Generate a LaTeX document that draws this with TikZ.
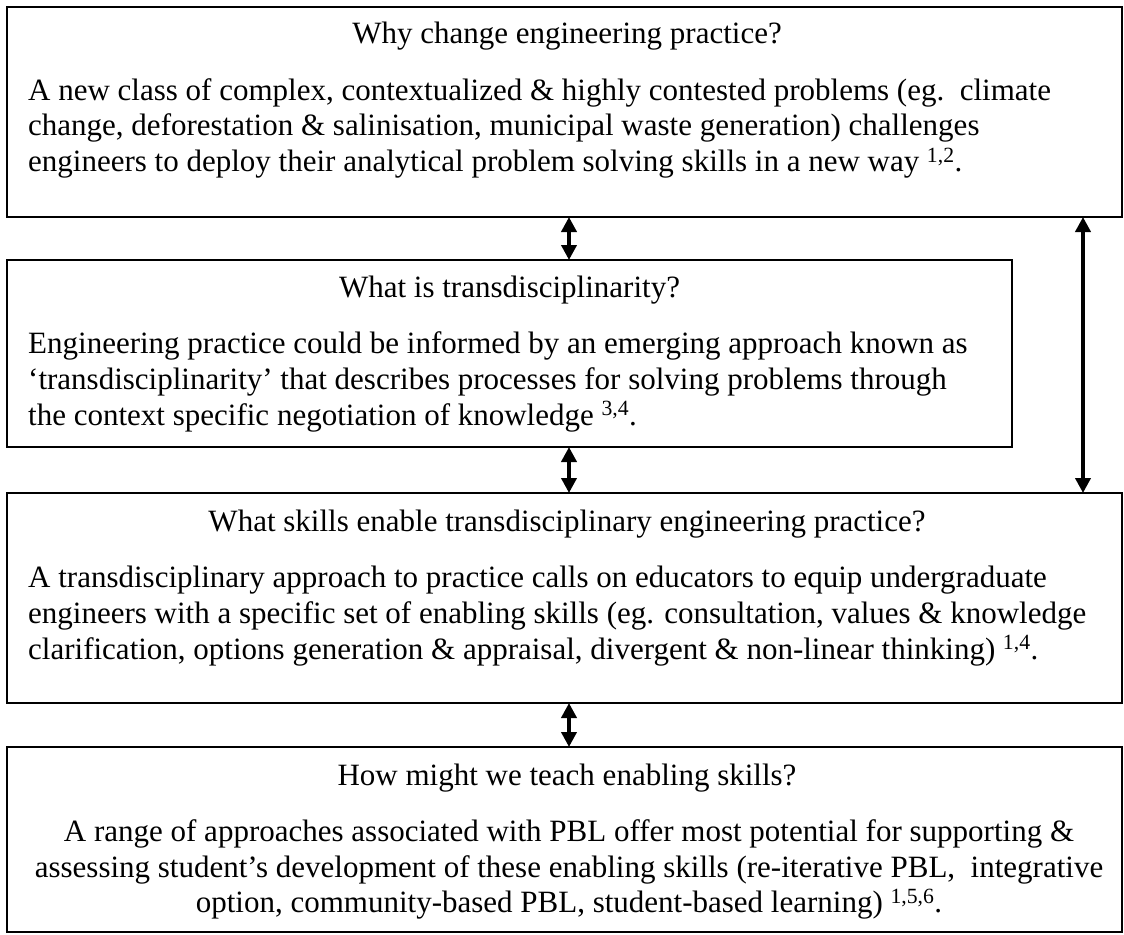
\documentclass[tikz,border=0pt]{standalone}
\usepackage{fontspec}
\setmainfont{Liberation Serif}
\usetikzlibrary{arrows.meta}
\begin{document}
\begin{tikzpicture}[x=1pt,y=-1pt,
  box/.style={draw=black,line width=2pt,anchor=north west,inner sep=0pt,outer sep=0pt},
  ttl/.style={anchor=base,inner sep=0pt,font=\fontsize{31}{35.7}\selectfont},
  lft/.style={anchor=base west,inner sep=0pt,font=\fontsize{31}{35.7}\selectfont},
  ctr/.style={anchor=base,inner sep=0pt,font=\fontsize{31}{35.7}\selectfont},
  dbl/.style={line width=4pt,{Triangle[width=15pt,length=15pt]}-{Triangle[width=15pt,length=15pt]}}]
\useasboundingbox (0,0) rectangle (1124,934);
% boxes
\node[box,minimum width=1115pt,minimum height=210pt] (b1) at (7,7) {};
\node[box,minimum width=1005pt,minimum height=187pt] (b2) at (7,260) {};
\node[box,minimum width=1115pt,minimum height=210pt] (b3) at (7,493) {};
\node[box,minimum width=1115pt,minimum height=185pt] (b4) at (7,747) {};
% box 1
\node[ttl] (t1) at (567,44) {Why change engineering practice?};
\node[lft] (l11) at (28,100) {A new class of complex, contextualized \& highly contested problems (eg.\ \ climate};
\node[lft] (l12) at (28,135.7) {change, deforestation \& salinisation, municipal waste generation) challenges};
\node[lft] (l13) at (28,171.4) {engineers to deploy their analytical problem solving skills in a new way \textsuperscript{1,2}.};
% box 2
\node[ttl] (t2) at (509.5,297) {What is transdisciplinarity?};
\node[lft] (l21) at (28,353.6) {Engineering practice could be informed by an emerging approach known as};
\node[lft] (l22) at (28,389.3) {‘transdisciplinarity’ that describes processes for solving problems through};
\node[lft] (l23) at (28,425) {the context specific negotiation of knowledge \textsuperscript{3,4}.};
% box 3
\node[ttl] (t3) at (567,531) {What skills enable transdisciplinary engineering practice?};
\node[lft] (l31) at (28,587.6) {A transdisciplinary approach to practice calls on educators to equip undergraduate};
\node[lft] (l32) at (28,623.3) {engineers with a specific set of enabling skills (eg. consultation, values \& knowledge};
\node[lft] (l33) at (28,659) {clarification, options generation \& appraisal, divergent \& non-linear thinking) \textsuperscript{1,4}.};
% box 4
\node[ttl] (t4) at (567,785) {How might we teach enabling skills?};
\node[ctr] (l41) at (569,841.3) {A range of approaches associated with PBL offer most potential for supporting \&};
\node[ctr] (l42) at (569,877) {assessing student’s development of these enabling skills (re-iterative PBL,\ \ integrative};
\node[ctr] (l43) at (569,912.7) {option, community-based PBL, student-based learning) \textsuperscript{1,5,6}.};
% connectors
\coordinate (cx) at (569,0);
\coordinate (rx) at (1083,0);
\draw[dbl] (b1.south -| cx) -- (b2.north -| cx);
\draw[dbl] (b2.south -| cx) -- (b3.north -| cx);
\draw[dbl] (b3.south -| cx) -- (b4.north -| cx);
\draw[dbl] (b1.south -| rx) -- (b3.north -| rx);
\end{tikzpicture}
\end{document}
